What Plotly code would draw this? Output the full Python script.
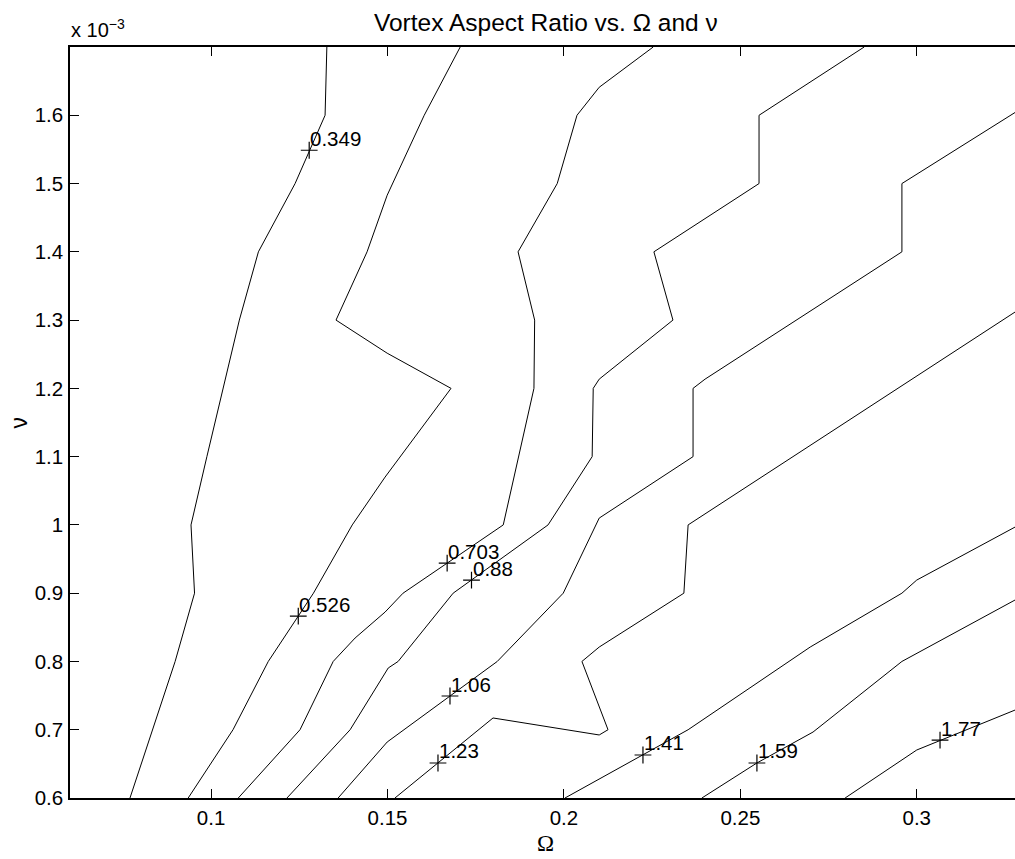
import plotly.graph_objects as go

# Contour levels of the vortex aspect ratio
levels = [0.349, 0.526, 0.703, 0.88, 1.06, 1.23, 1.41, 1.59, 1.77]

# Contour paths: Omega (x) and nu in units of 1e-3 (y), one pair per level
omega_0349 = [0.0770, 0.0834, 0.0898, 0.0953, 0.0943, 0.0988, 0.1034, 0.1080, 0.1134, 0.1238, 0.1323, 0.1328]
nu_0349 = [0.6, 0.7, 0.8, 0.9, 1.0, 1.1, 1.2, 1.3, 1.4, 1.5, 1.6, 1.7]

omega_0526 = [0.0935, 0.1062, 0.1162, 0.1290, 0.1400, 0.1493, 0.1680, 0.1499, 0.1354, 0.1442, 0.1499, 0.1604, 0.1706]
nu_0526 = [0.6, 0.7, 0.8, 0.9, 1.0, 1.07, 1.2, 1.2515, 1.3, 1.4, 1.4829, 1.6, 1.7]

omega_0703 = [0.1077, 0.1252, 0.1346, 0.1408, 0.1493, 0.1544, 0.1828, 0.1915, 0.1917, 0.1870, 0.1981, 0.2037, 0.2100, 0.2253]
nu_0703 = [0.6, 0.7, 0.8, 0.8343, 0.8723, 0.9, 1.0, 1.2, 1.3, 1.4, 1.5, 1.6, 1.641, 1.7]

omega_0880 = [0.1215, 0.1394, 0.1502, 0.1530, 0.1686, 0.1955, 0.2080, 0.2083, 0.2100, 0.2309, 0.2255, 0.2553, 0.2553, 0.2851]
nu_0880 = [0.6, 0.7, 0.7904, 0.8, 0.9, 1.0, 1.1, 1.2, 1.2135, 1.3, 1.4, 1.5, 1.6, 1.7]

omega_1060 = [0.1360, 0.1499, 0.1811, 0.1998, 0.2100, 0.2366, 0.2366, 0.2400, 0.2958, 0.2958, 0.3300]
nu_1060 = [0.6, 0.682, 0.8, 0.9, 1.01, 1.1, 1.2, 1.2135, 1.4, 1.5, 1.611]

omega_1230 = [0.1521, 0.1799, 0.2100, 0.2125, 0.2051, 0.2100, 0.2340, 0.2352, 0.3300]
nu_1230 = [0.6, 0.7172, 0.6923, 0.7, 0.8, 0.8211, 0.9, 1.0, 1.319]

omega_1410 = [0.2003, 0.2352, 0.2698, 0.2958, 0.3000, 0.3300]
nu_1410 = [0.6, 0.7, 0.8211, 0.9, 0.9192, 1.0028]

omega_1590 = [0.2391, 0.2547, 0.2706, 0.2958, 0.3300]
nu_1590 = [0.6, 0.6513, 0.6966, 0.8, 0.896]

omega_1770 = [0.2797, 0.3000, 0.3300]
nu_1770 = [0.6, 0.6703, 0.7333]

# Points on each contour where its level is labelled
label_omega = [0.1278, 0.1247, 0.1669, 0.1738, 0.1677, 0.1643, 0.2224, 0.2547, 0.3066]
label_nu = [1.5488, 0.8665, 0.9441, 0.9192, 0.7494, 0.6513, 0.6630, 0.6513, 0.6849]

# Axis ticks
x_ticks = [0.1, 0.15, 0.2, 0.25, 0.3]
x_ticktext = ["0.1", "0.15", "0.2", "0.25", "0.3"]
y_ticks = [0.6, 0.7, 0.8, 0.9, 1.0, 1.1, 1.2, 1.3, 1.4, 1.5, 1.6]
y_ticktext = ["0.6", "0.7", "0.8", "0.9", "1", "1.1", "1.2", "1.3", "1.4", "1.5", "1.6"]

paths = [
    (omega_0349, nu_0349), (omega_0526, nu_0526), (omega_0703, nu_0703),
    (omega_0880, nu_0880), (omega_1060, nu_1060), (omega_1230, nu_1230),
    (omega_1410, nu_1410), (omega_1590, nu_1590), (omega_1770, nu_1770),
]

FONT = "Liberation Sans, Arial, Helvetica, sans-serif"
fig = go.Figure()

for lev, (xs, ys) in zip(levels, paths):
    fig.add_trace(go.Scatter(
        x=xs, y=ys, mode="lines", name=f"{lev:g}",
        line=dict(color="black", width=1), hoverinfo="skip",
    ))

# "+" markers at label points
fig.add_trace(go.Scatter(
    x=label_omega, y=label_nu, mode="markers",
    marker=dict(symbol="cross-thin", size=12, line=dict(color="black", width=1.2)),
    hoverinfo="skip",
))

annotations = []
for lev, lx, ly in zip(levels, label_omega, label_nu):
    annotations.append(dict(
        x=lx, y=ly, xref="x", yref="y", text=f"{lev:g}", showarrow=False,
        xanchor="left", yanchor="middle", yshift=12, xshift=-1,
        font=dict(family=FONT, size=20.5, color="black"),
    ))

# Title, axis labels and exponent marker
annotations += [
    dict(x=0.5037, y=1, xref="paper", yref="paper", yshift=25,
         text="Vortex Aspect Ratio vs. Ω and ν", showarrow=False,
         xanchor="center", yanchor="middle",
         font=dict(family=FONT, size=24.5, color="black")),
    dict(x=0.5037, y=0, xref="paper", yref="paper", yshift=-45,
         text="Ω", showarrow=False, xanchor="center", yanchor="middle",
         font=dict(family="Liberation Serif, Times New Roman, serif", size=23, color="black")),
    dict(x=0, y=0.5, xref="paper", yref="paper", xshift=-52,
         text="ν", showarrow=False, xanchor="center", yanchor="middle", textangle=-90,
         font=dict(family=FONT, size=23, color="black")),
    dict(x=0, y=1, xref="paper", yref="paper", yshift=4, xshift=-1,
         text="x 10<sup>−3</sup>", showarrow=False, xanchor="left", yanchor="bottom",
         font=dict(family=FONT, size=20, color="black")),
]

axis_common = dict(
    showgrid=False, zeroline=False, showline=True, linecolor="black", linewidth=1.5,
    ticks="inside", ticklen=9, tickwidth=1, tickcolor="black",
    tickfont=dict(family=FONT, size=20.5, color="black"),
)

fig.update_layout(
    width=1015, height=859,
    margin=dict(l=70, r=0, t=47, b=61, pad=0),
    paper_bgcolor="white", plot_bgcolor="white",
    showlegend=False,
    annotations=annotations,
    xaxis=dict(range=[0.06, 0.32785], tickvals=x_ticks, ticktext=x_ticktext,
               mirror="ticks", ticklabelstandoff=1, **axis_common),
    yaxis=dict(range=[0.6, 1.7], tickvals=y_ticks, ticktext=y_ticktext,
               mirror=False, ticklabelstandoff=1, **axis_common),
)

fig.write_html("out.html")
